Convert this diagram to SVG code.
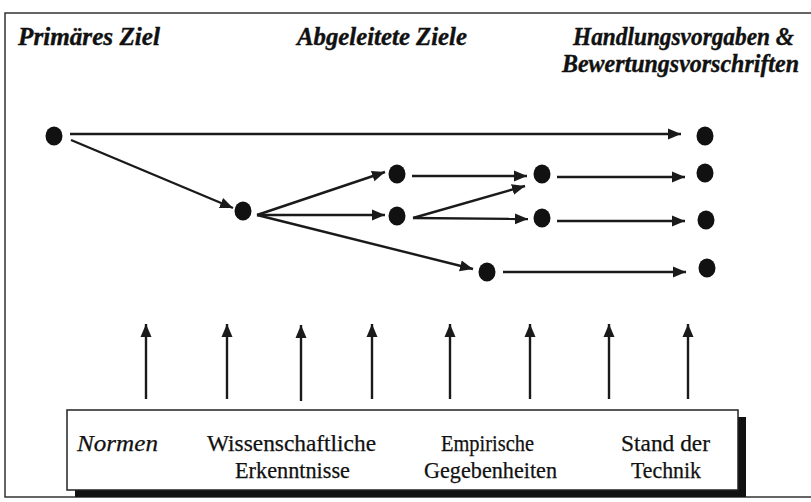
<svg xmlns="http://www.w3.org/2000/svg" width="811" height="502" viewBox="0 0 811 502">
<style>
.title{font-family:"Liberation Serif","DejaVu Serif",serif;font-weight:bold;font-style:italic;font-size:25px;fill:#111;stroke:#111;stroke-width:0.4}
.lbl{font-family:"Liberation Serif","DejaVu Serif",serif;font-size:23px;fill:#111;stroke:#111;stroke-width:0.25}
.it{font-style:italic}
.node{fill:#111}
.edge{stroke:#1a1a1a;stroke-width:2.4;fill:none;marker-end:url(#ah)}
</style>
<defs>
<marker id="ah" markerUnits="userSpaceOnUse" markerWidth="14" markerHeight="12" refX="13" refY="6" orient="auto">
<path d="M0,0.5 L13,6 L0,11.5 z" fill="#1a1a1a"/>
</marker>
</defs>
<rect x="0" y="0" width="811" height="502" fill="#fff"/>
<rect id="frame" x="5" y="13" width="812" height="484" fill="none" stroke="#333" stroke-width="1.5"/>
<g id="headers">
<text class="title" x="18" y="45" textLength="142" lengthAdjust="spacingAndGlyphs">Primäres Ziel</text>
<text class="title" x="297" y="45" textLength="170" lengthAdjust="spacingAndGlyphs">Abgeleitete Ziele</text>
<text class="title" x="573" y="45" textLength="221" lengthAdjust="spacingAndGlyphs">Handlungsvorgaben &amp;</text>
<text class="title" x="562" y="72" textLength="237" lengthAdjust="spacingAndGlyphs">Bewertungsvorschriften</text>
</g>
<g id="connectors">
<path class="edge" d="M70,134 L681,134"/>
<path class="edge" d="M71,140 L233,208"/>
<path class="edge" d="M257,215 L385,172"/>
<path class="edge" d="M257,215 L385,215"/>
<path class="edge" d="M257,215 L473,269"/>
<path class="edge" d="M412,176 L527,176"/>
<path class="edge" d="M413,218 L525,186"/>
<path class="edge" d="M413,218 L528,219"/>
<path class="edge" d="M557,177 L685,177"/>
<path class="edge" d="M557,221 L685,221"/>
<path class="edge" d="M503,272 L686,272"/>
<path class="edge" d="M146,399 L146,324"/>
<path class="edge" d="M227,399 L227,324"/>
<path class="edge" d="M301,401 L301,325"/>
<path class="edge" d="M372,399 L372,324"/>
<path class="edge" d="M450,399 L450,324"/>
<path class="edge" d="M530,399 L530,324"/>
<path class="edge" d="M609,399 L609,324"/>
<path class="edge" d="M688,399 L688,324"/>
</g>
<g id="nodeA"><ellipse class="node" cx="54" cy="136" rx="8.5" ry="9.5"/></g>
<g id="nodeB"><ellipse class="node" cx="243" cy="211" rx="8.5" ry="9.5"/></g>
<g id="nodeC1"><ellipse class="node" cx="397" cy="174" rx="8.5" ry="9.5"/></g>
<g id="nodeC2"><ellipse class="node" cx="397" cy="216" rx="8.5" ry="9.5"/></g>
<g id="nodeD1"><ellipse class="node" cx="542" cy="174" rx="8.5" ry="9.5"/></g>
<g id="nodeD2"><ellipse class="node" cx="542" cy="218" rx="8.5" ry="9.5"/></g>
<g id="nodeE"><ellipse class="node" cx="487" cy="272" rx="8.5" ry="9.5"/></g>
<g id="nodeF1"><ellipse class="node" cx="705" cy="136" rx="8.5" ry="9.5"/></g>
<g id="nodeF2"><ellipse class="node" cx="705" cy="173" rx="8.5" ry="9.5"/></g>
<g id="nodeF3"><ellipse class="node" cx="706" cy="220" rx="8.5" ry="9.5"/></g>
<g id="nodeF4"><ellipse class="node" cx="707" cy="268" rx="8.5" ry="9.5"/></g>
<g id="sources">
<rect x="75" y="417" width="671" height="80" fill="#111"/>
<rect x="67" y="410" width="671" height="80" fill="#fff" stroke="#222" stroke-width="1.5"/>
<text class="lbl it" x="77" y="451" textLength="81" lengthAdjust="spacingAndGlyphs">Normen</text>
<text class="lbl" x="207" y="451" textLength="169" lengthAdjust="spacingAndGlyphs">Wissenschaftliche</text>
<text class="lbl" x="235" y="478" textLength="115" lengthAdjust="spacingAndGlyphs">Erkenntnisse</text>
<text class="lbl" x="441" y="451" textLength="93" lengthAdjust="spacingAndGlyphs">Empirische</text>
<text class="lbl" x="424" y="478" textLength="133" lengthAdjust="spacingAndGlyphs">Gegebenheiten</text>
<text class="lbl" x="621" y="451" textLength="89" lengthAdjust="spacingAndGlyphs">Stand der</text>
<text class="lbl" x="631" y="478" textLength="70" lengthAdjust="spacingAndGlyphs">Technik</text>
</g>
</svg>
